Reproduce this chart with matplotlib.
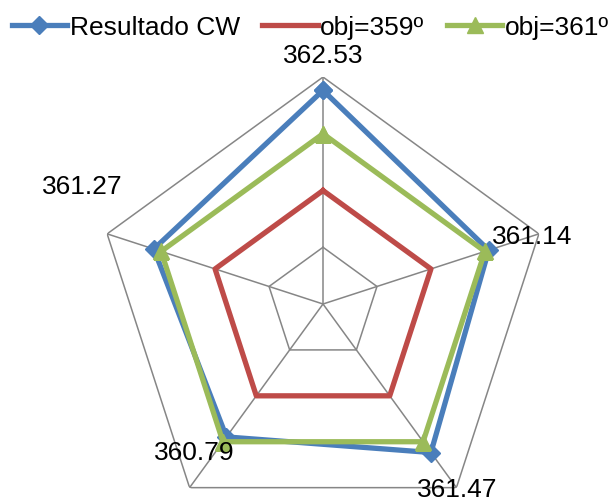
import numpy as np
import matplotlib
matplotlib.use("Agg")
import matplotlib.pyplot as plt

plt.rcParams['font.family'] = ['Liberation Sans', 'DejaVu Sans']

# Data
categories = ["362.53", "361.14", "361.47", "360.79", "361.27"]
resultado_cw = [362.53, 361.14, 361.47, 360.79, 361.27]
obj_359 = [359, 359, 359, 359, 359]
obj_361 = [361, 361, 361, 361, 361]
series_names = ["Resultado CW", "obj=359º", "obj=361º"]

r_min, r_max, r_step = 355, 363, 2

# Label placement (angle in degrees clockwise from top, radius in data units)
label_angles = [0, 72.2, 144.2, 220.9, 295.9]
label_radii = [363.74, 362.74, 363.07, 361.94, 364.44]

fig = plt.figure(figsize=(6.12, 5.01), dpi=100)
ax = fig.add_axes([0.1569, -0.0599, 0.7418, 0.9062], projection='polar')
ax.set_theta_offset(np.pi / 2)
ax.set_theta_direction(-1)
ax.set_ylim(r_min, r_max)
ax.grid(False)
ax.set_xticks([])
ax.set_yticks([])
ax.spines['polar'].set_visible(False)
ax.patch.set_visible(False)

n = len(categories)
theta = np.linspace(0, 2 * np.pi, n, endpoint=False)
theta_c = np.append(theta, theta[0])

grid_color = '#868686'
for lvl in np.arange(r_min + r_step, r_max + 0.01, r_step):
    ax.plot(theta_c, [lvl] * (n + 1), color=grid_color, lw=1.1, zorder=1)
for t in theta:
    ax.plot([t, t], [r_min, r_max], color=grid_color, lw=1.1, zorder=1)

def closed(v):
    return list(v) + [v[0]]

ax.plot(theta_c, closed(resultado_cw), color='#4A7EBB', lw=3.8, marker='D',
        markersize=9.5, label=series_names[0], zorder=4)
ax.plot(theta_c, closed(obj_359), color='#BE4B48', lw=3.8,
        label=series_names[1], zorder=3)
ax.plot(theta_c, closed(obj_361), color='#9BBB59', lw=3.8, marker='^',
        markersize=12, label=series_names[2], zorder=5)

for lab, ang, rad in zip(categories, label_angles, label_radii):
    ax.text(np.deg2rad(ang), rad, lab, ha='center', va='center',
            fontsize=19, color='black', zorder=6)

fig.legend(loc='center', bbox_to_anchor=(0.507, 0.945), ncol=3, frameon=False,
           fontsize=19, handlelength=2.1, handletextpad=0.1, columnspacing=0.85,
           borderaxespad=0)

fig.savefig('out.png', dpi=100)
